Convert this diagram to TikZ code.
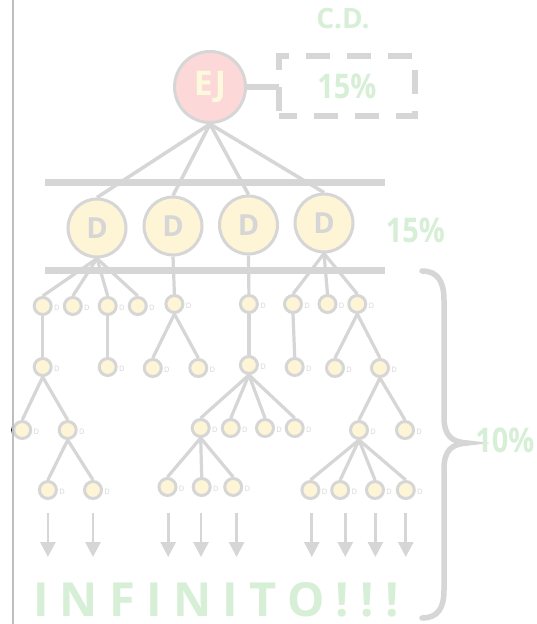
\documentclass[tikz,border=0pt]{standalone}
\usepackage{fontspec}
\setmainfont{Open Sans}
\newfontfamily\pctfont[FakeStretch=0.85]{Open Sans}
\usetikzlibrary{arrows.meta}
\definecolor{lg}{RGB}{214,214,214}
\definecolor{pinkf}{RGB}{252,216,216}
\definecolor{yelf}{RGB}{253,245,214}
\definecolor{grn}{RGB}{214,239,214}
\definecolor{ejtxt}{RGB}{253,249,220}
\definecolor{edgeline}{RGB}{190,190,190}
\newcommand{\myfs}[1]{\fontsize{#1}{#1}\selectfont}
\begin{document}
\begin{tikzpicture}[x=1pt,y=-1pt,
  bigc/.style={circle,draw=lg,line width=3pt,inner sep=0pt},
  ejnode/.style={bigc,fill=pinkf,minimum size=71pt,text=ejtxt,font=\bfseries\myfs{34}},
  dnode/.style={bigc,fill=yelf,minimum size=58pt,text=lg,font=\bfseries\myfs{29}},
  smallc/.style={circle,draw=lg,line width=3pt,fill=yelf,minimum size=17pt,inner sep=0pt,
    label={[tinyd]east:D}},
  tinyd/.style={font=\myfs{7.5},text=lg,inner sep=0pt,xshift=1.2pt,yshift=-2pt},
  pct/.style={text=grn,font=\pctfont\bfseries\myfs{34},inner sep=0pt},
  ejedge/.style={draw=lg,line width=3.5pt},
  tedge/.style={draw=lg,line width=3.2pt},
  bar/.style={draw=lg,line width=7pt},
  arrowst/.style={draw=lg,line width=2.7pt,-{Triangle[width=15pt,length=15pt]}},
]
\useasboundingbox (0,0) rectangle (536,624);
\fill[white] (0,0) rectangle (536,624);

% top
\node[text=grn,font=\bfseries\myfs{28},inner sep=0pt,anchor=base] (cd) at (343,28) {C.D.};
\node[ejnode] (EJ) at (210,87) {EJ};
\node[draw=lg,line width=6pt,dash pattern=on 24pt off 17pt,dash phase=6pt,
      minimum width=136pt,minimum height=60pt,outer sep=0pt,
      pct] (box) at (347,86) {15\%};
\draw[draw=lg,line width=6pt] (EJ.east) -- (EJ.east -| box.west);

% bars
\draw[bar] (45,182) -- (385,182);
\draw[bar] (45,270) -- (385,270);

% D level
\node[dnode] (D1) at (97,228) {D};
\node[dnode] (D2) at (173,226) {D};
\node[dnode] (D3) at (248.5,225) {D};
\node[dnode] (D4) at (324,223) {D};
\node[pct,anchor=base] (p15) at (415.5,242) {15\%};

\foreach \d in {D1,D2,D3,D4} \draw[ejedge] (EJ.south) -- (\d.north);

% row 1
\node[smallc] (a1) at (42.7,306) {};
\node[smallc] (a2) at (72.8,306) {};
\node[smallc] (a3) at (107.7,306) {};
\node[smallc] (a4) at (137.8,306) {};
\node[smallc] (a5) at (174.4,304) {};
\node[smallc] (a6) at (248.9,304) {};
\node[smallc] (a7) at (293,304) {};
\node[smallc] (a8) at (327.5,304) {};
\node[smallc] (a9) at (357.3,304) {};
% row 2
\node[smallc] (b1) at (42.7,367) {};
\node[smallc] (b2) at (107.7,367) {};
\node[smallc] (b3) at (152.8,368) {};
\node[smallc] (b4) at (198.3,368) {};
\node[smallc] (b5) at (248.9,365) {};
\node[smallc] (b6) at (294.7,367) {};
\node[smallc] (b7) at (335,368) {};
\node[smallc] (b8) at (380,368) {};
% row 3
\node[smallc] (c1) at (22.2,430) {};
\node[smallc] (c2) at (67.7,430) {};
\node[smallc] (c3) at (200.7,428) {};
\node[smallc] (c4) at (230.8,428) {};
\node[smallc] (c5) at (265,428) {};
\node[smallc] (c6) at (294.7,428) {};
\node[smallc] (c7) at (359,430) {};
\node[smallc] (c8) at (405,430) {};
% row 4
\node[smallc] (d1) at (47.9,490) {};
\node[smallc] (d2) at (93,490) {};
\node[smallc] (d3) at (167.5,487) {};
\node[smallc] (d4) at (201.7,487) {};
\node[smallc] (d5) at (233.2,487) {};
\node[smallc] (d6) at (310.4,490) {};
\node[smallc] (d7) at (340.2,490) {};
\node[smallc] (d8) at (375,490) {};
\node[smallc] (d9) at (405.8,490) {};

\foreach \p/\c in {D1/a1,D1/a2,D1/a3,D1/a4,D2/a5,D3/a6,D4/a7,D4/a8,D4/a9,
  a1/b1,a3/b2,a5/b3,a5/b4,a6/b5,a7/b6,a9/b7,a9/b8,
  b1/c1,b1/c2,b5/c3,b5/c4,b5/c5,b5/c6,b8/c7,b8/c8,
  c2/d1,c2/d2,c3/d3,c3/d4,c3/d5,c7/d6,c7/d7,c7/d8,c7/d9}
  \draw[tedge] (\p.south) -- (\c.north);

% arrows
\foreach \i/\x in {1/47.9,2/93,3/168.2,4/201,5/236.6,6/311.8,7/345.3,8/375.4,9/405.8}{
  \coordinate (s\i) at (\x,513);
  \coordinate (e\i) at (\x,557);
  \draw[arrowst] (s\i) -- (e\i);
}

% INFINITO
\node[anchor=base west,inner sep=0pt,text=grn,
      font=\bfseries\myfs{47}\addfontfeature{LetterSpace=24}] (inf) at (33,616) {INFINITO!!!};

% brace
\draw[lg,line width=5.5pt,line cap=round]
  (422,271) .. controls (438,271) and (444,282) .. (444,300)
  -- (444,417) .. controls (444,436) and (452,442) .. (467,443)
  .. controls (452,444) and (444,450) .. (444,469)
  -- (444,590) .. controls (444,608) and (438,618) .. (422,618);
\node[pct,anchor=base] (p10) at (505,452) {10\%};

% left rule and mark
\draw[black,line width=2pt] (c1.155) arc[start angle=155,end angle=205,radius=10pt];
\draw[edgeline,line width=1.2pt] (13,0) -- (13,624);
\end{tikzpicture}
\end{document}
